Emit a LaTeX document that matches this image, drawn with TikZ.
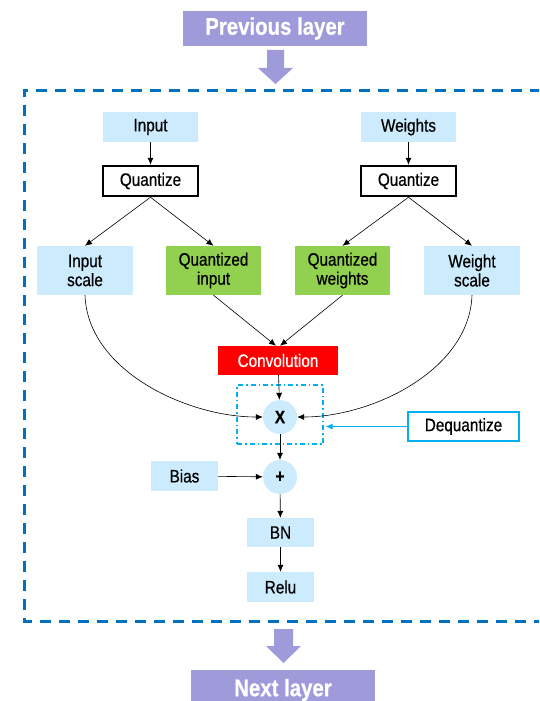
\documentclass[tikz,border=0pt]{standalone}
\usepackage{fontspec}
\setmainfont{Liberation Sans}[FakeStretch=0.85, FakeBold=0.6]
\usetikzlibrary{arrows.meta}
\definecolor{boxblue}{HTML}{CCEBFC}
\definecolor{boxgreen}{HTML}{92D050}
\definecolor{layerpurple}{HTML}{9F9BDB}
\definecolor{frameblue}{HTML}{0070C0}
\definecolor{deqcyan}{HTML}{00B0F0}
\begin{document}
\begin{tikzpicture}[x=1pt, y=-1pt,
  every node/.style={font=\fontsize{18}{19}\selectfont, align=center, inner sep=0pt},
  bluebox/.style={fill=boxblue, minimum width=95pt, minimum height=30pt},
  greenbox/.style={fill=boxgreen, minimum width=95pt, minimum height=49pt},
  quantbox/.style={draw, line width=2.5pt, fill=white, minimum width=95pt, minimum height=30pt},
  layerbox/.style={fill=layerpurple, text=white, font=\fontsize{24}{26}\selectfont\bfseries, minimum width=184pt},
  opcircle/.style={circle, fill=boxblue, minimum size=34pt, font=\fontsize{18}{19}\selectfont\bfseries},
  arr/.style={-{Latex[length=7pt, width=6pt]}, line width=0.6pt},
  blockarrow/.style={fill=layerpurple, draw=none}]
\useasboundingbox (0,0) rectangle (539,701);
\clip (0,0) rectangle (539,701);
% outer frame
\draw[frameblue, line width=3pt, dash pattern=on 11pt off 8pt] (560,90) -- (24,90) -- (24,621) -- (560,621);
% layers
\node[layerbox, minimum height=35pt] (prev) at (275,28.5){Previous layer};
\node[layerbox, minimum height=40pt] (next) at (283,690){\raisebox{2pt}{Next layer}};
\fill[blockarrow] (267,50) -- (284,50) -- (284,68) -- (293,68) -- (275.5,84) -- (258,68) -- (267,68) -- cycle;
\fill[blockarrow] (274,629) -- (293,629) -- (293,646) -- (301,646) -- (283.5,663) -- (266,646) -- (274,646) -- cycle;
% inputs
\node[bluebox] (input) at (150.5,127){Input};
\node[bluebox] (weights) at (408.5,127){Weights};
\node[quantbox] (qin) at (150.5,181){Quantize};
\node[quantbox] (qwt) at (408.5,181){Quantize};
\node[bluebox, minimum width=96pt, minimum height=49pt] (iscale) at (85,270.5){Input\\scale};
\node[greenbox] (qinput) at (213.5,270.5){Quantized\\input};
\node[greenbox] (qweights) at (342.5,270.5){Quantized\\weights};
\node[bluebox, minimum width=96pt, minimum height=49pt] (wscale) at (472,270.5){Weight\\scale};
% ops
\node[fill=red, text=white, minimum width=120pt, minimum height=29pt] (conv) at (278,360.5){Convolution};
\node[draw=deqcyan, line width=1.2pt, dash pattern=on 5pt off 3pt on 1.5pt off 3pt, minimum width=86pt, minimum height=59pt] (dqbox) at (280,414.5){};
\node[opcircle] (mul) at (280,417){X};
\node[opcircle] (add) at (280,477){+};
\node[draw=deqcyan, line width=2.5pt, fill=white, minimum width=111pt, minimum height=29pt] (deq) at (463.5,426.5){Dequantize};
\node[bluebox, minimum width=67pt] (bias) at (184.5,476){Bias};
\node[bluebox, minimum width=67pt, minimum height=29pt] (bn) at (280.5,532.5){BN};
\node[bluebox, minimum width=67pt] (relu) at (280.5,587){Relu};
% connectors
\draw[arr] (input) -- (qin);
\draw[arr] (weights) -- (qwt);
\draw[arr] (qin.south) -- (iscale.north);
\draw[arr] (qin.south) -- (qinput.north);
\draw[arr] (qwt.south) -- (qweights.north);
\draw[arr] (qwt.south) -- (wscale.north);
\draw[arr] (qinput.south) -- ([xshift=-2pt]conv.north);
\draw[arr] (qweights.south) -- ([xshift=2pt]conv.north);
\draw[arr] (iscale.south) to[out=-88, in=180, looseness=0.9] (mul.west);
\draw[arr] (wscale.south) to[out=-92, in=0, looseness=0.9] (mul.east);
\draw[arr] (conv) -- (mul);
\draw[arr] (mul) -- (add);
\draw[arr] (bias) -- (add);
\draw[arr] (add) -- (bn);
\draw[arr] (bn) -- (relu);
\draw[-{Latex[length=7pt, width=6pt]}, deqcyan, line width=0.8pt, shorten >=2pt] (deq.west) -- (dqbox.east |- deq.west);
\end{tikzpicture}
\end{document}
